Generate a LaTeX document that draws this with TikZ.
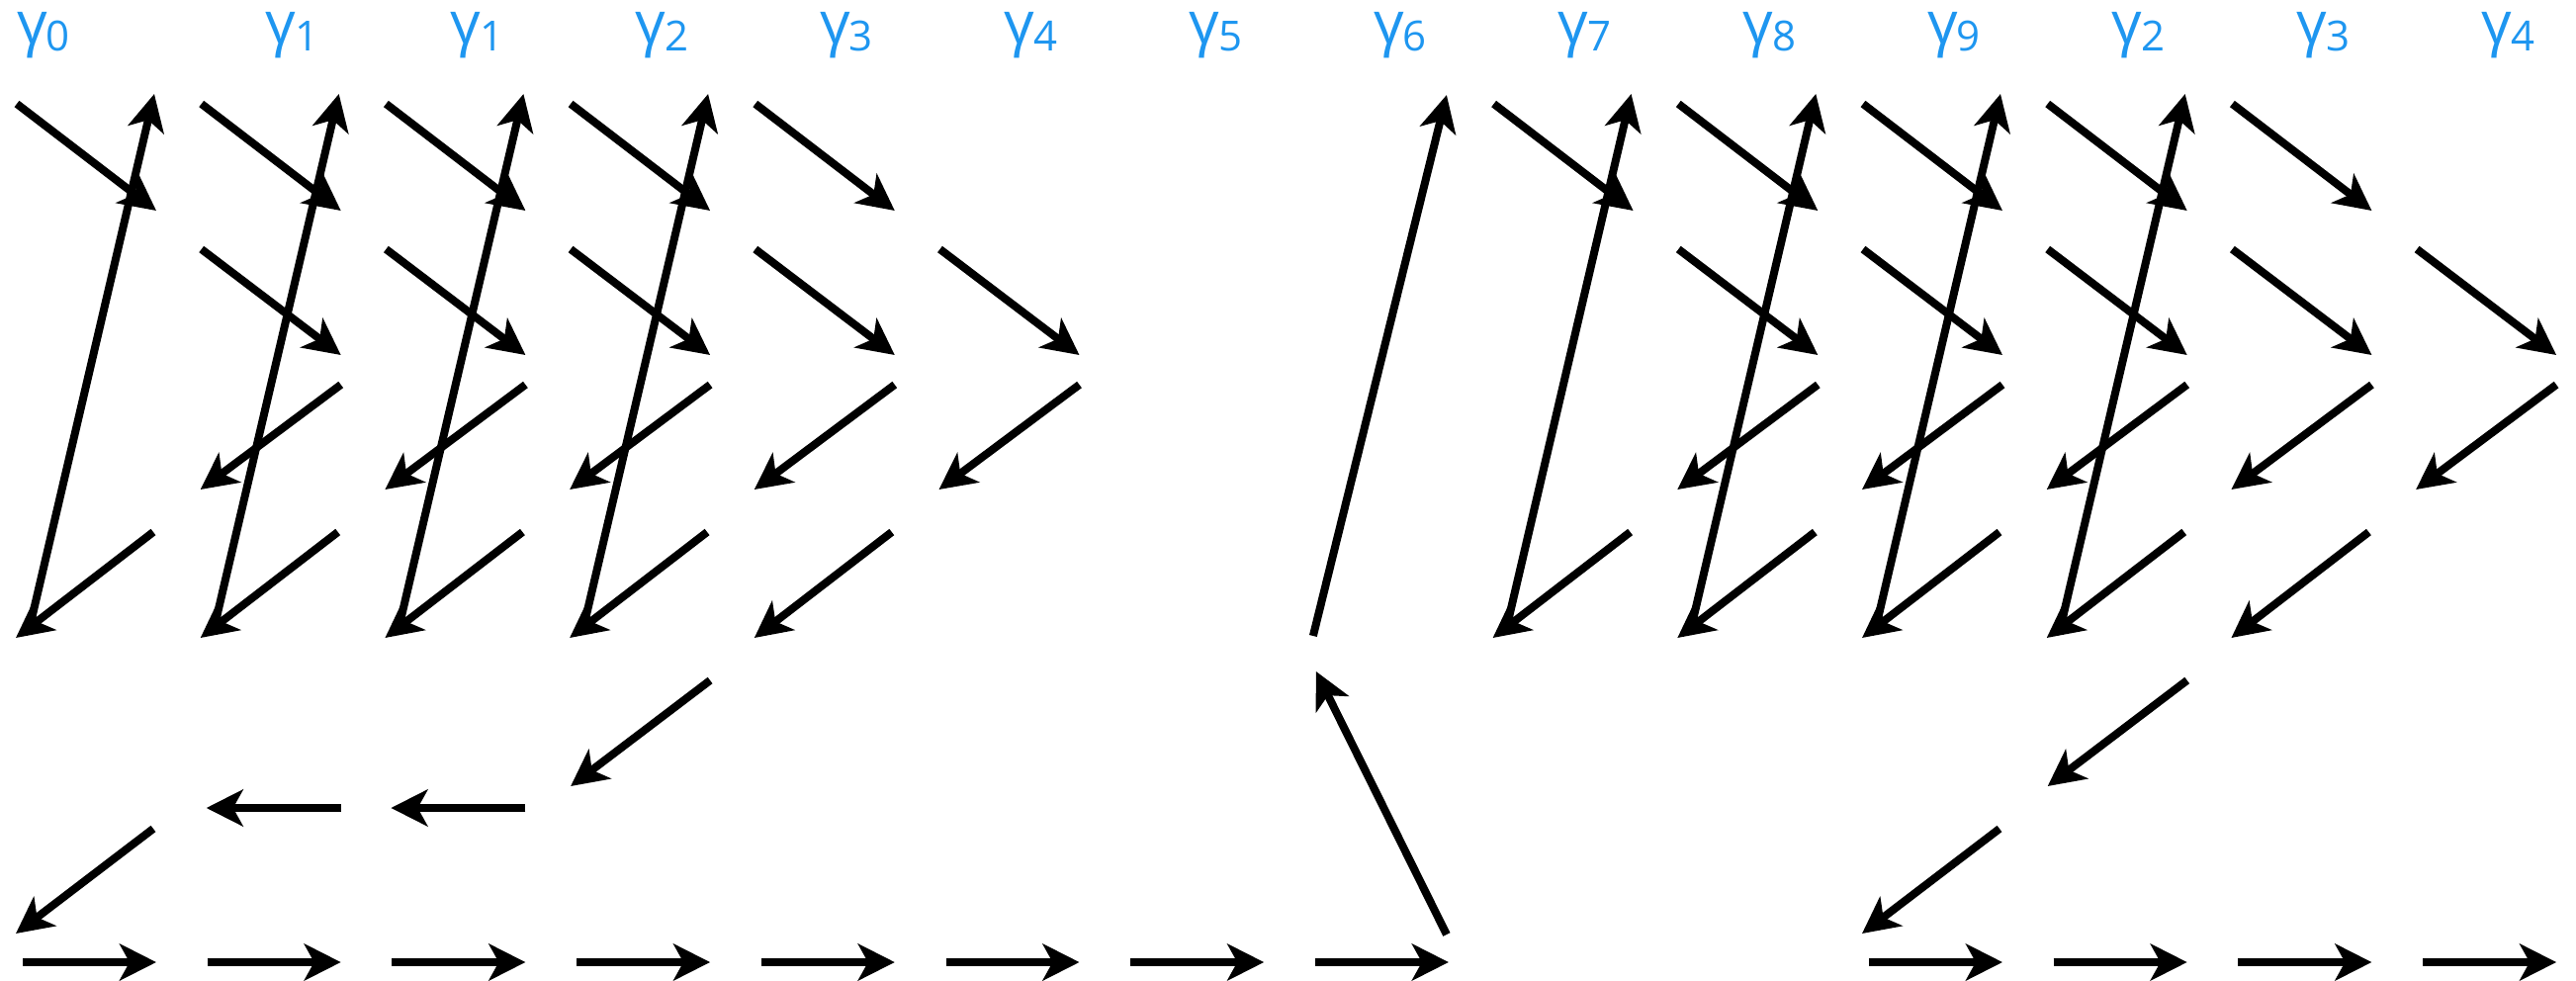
\documentclass[tikz,border=0pt]{standalone}
\usepackage{fontspec}
\setmainfont{Open Sans}
\usetikzlibrary{arrows.meta}
\definecolor{gblue}{HTML}{1E96F0}
\tikzset{
  arr/.style={line width=8pt, -{Stealth[length=37pt,width=37pt,inset=10pt]}},
  glabel/.style={anchor=base west, inner sep=0pt, text=gblue}
}
% column geometry: left edge L and right edge R of column k
\newcommand\colgeom[1]{%
  \pgfmathsetmacro\L{17+186.7*#1}%
  \pgfmathsetmacro\R{\L+141}}
\newcommand\glab[1]{{\fontsize{60}{62}\selectfont γ}\kern-1pt\raisebox{-6.4pt}{\fontsize{42}{42}\selectfont #1}}
\begin{document}
\begin{tikzpicture}[x=1pt,y=-1pt]
\useasboundingbox (0,0) rectangle (2605,991);

% labels
\node[glabel] (g0) at (17,44.6) {\glab{0}};
\foreach \k/\d in {1/1,2/1,3/2,4/3,5/4,6/5,7/6,8/7,9/8,10/9,11/2,12/3,13/4}{
  \colgeom{\k}
  \node[glabel] (g\k) at (\L+65,44.6) {\glab{\d}};
}

% row A: down-right from the top
\foreach \k in {0,1,2,3,4,8,9,10,11,12}{
  \colgeom{\k}
  \coordinate (a\k s) at (\L,105); \coordinate (a\k e) at (\R,213);
  \draw[arr] (a\k s) -- (a\k e);
}
% row B: down-right
\foreach \k in {1,2,3,4,5,9,10,11,12,13}{
  \colgeom{\k}
  \coordinate (b\k s) at (\L,252); \coordinate (b\k e) at (\R,359);
  \draw[arr] (b\k s) -- (b\k e);
}
% row C: down-left
\foreach \k in {1,2,3,4,5,9,10,11,12,13}{
  \colgeom{\k}
  \coordinate (c\k s) at (\R,389); \coordinate (c\k e) at (\L-1,495);
  \draw[arr] (c\k s) -- (c\k e);
}
% row D: down-left
\foreach \k in {0,1,2,3,4,8,9,10,11,12}{
  \colgeom{\k}
  \coordinate (d\k s) at (\R-3,538); \coordinate (d\k e) at (\L-1,645);
  \draw[arr] (d\k s) -- (d\k e);
}
% long return arrows
\foreach \k in {0,1,2,3,8,9,10,11}{
  \colgeom{\k}
  \coordinate (u\k s) at (\L+14,630); \coordinate (u\k e) at (\R-2,95);
  \draw[arr] (u\k s) -- (u\k e);
}
% row E: down-left
\foreach \k in {3,11}{
  \colgeom{\k}
  \coordinate (e\k s) at (\R,688); \coordinate (e\k e) at (\L,795);
  \draw[arr] (e\k s) -- (e\k e);
}
% row F: leftward
\foreach \k in {1,2}{
  \colgeom{\k}
  \coordinate (f\k s) at (\R,817); \coordinate (f\k e) at (\L+5,817);
  \draw[arr] (f\k s) -- (f\k e);
}
% row G: down-left
\foreach \k in {0,10}{
  \colgeom{\k}
  \coordinate (h\k s) at (\R-3,838); \coordinate (h\k e) at (\L-1,944);
  \draw[arr] (h\k s) -- (h\k e);
}
% bottom row: rightward
\foreach \k in {0,1,2,3,4,5,6,7,10,11,12,13}{
  \colgeom{\k}
  \coordinate (r\k s) at (\L+6,973); \coordinate (r\k e) at (\R,973);
  \draw[arr] (r\k s) -- (r\k e);
}
% column 7: jump back up
\colgeom{7}
\coordinate (j1s) at (\R-2,945); \coordinate (j1e) at (\L+7,679);
\coordinate (j2s) at (\L+4,643); \coordinate (j2e) at (\R-2,96);
\draw[arr] (j1s) -- (j1e);
\draw[arr] (j2s) -- (j2e);
\end{tikzpicture}
\end{document}
